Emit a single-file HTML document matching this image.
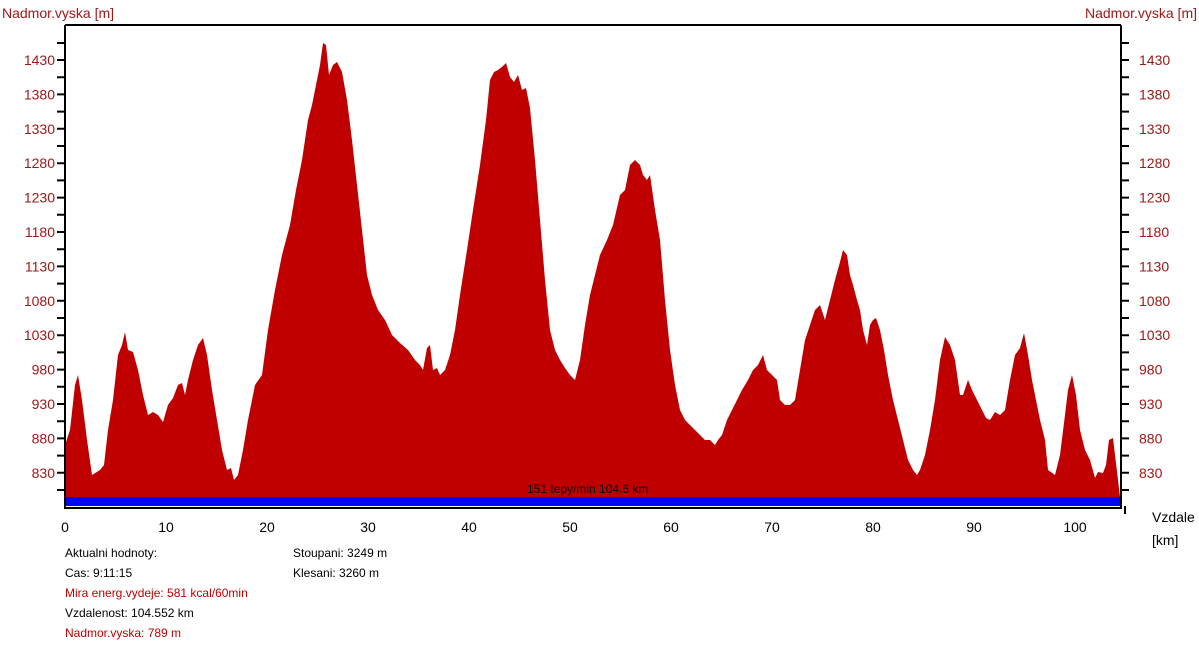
<!DOCTYPE html>
<html><head><meta charset="utf-8"><style>
body{margin:0;background:#fff;width:1199px;height:643px;overflow:hidden;font-family:"Liberation Sans",sans-serif}
svg text{font-family:"Liberation Sans",sans-serif}
</style></head><body>
<svg width="1199" height="643" xmlns="http://www.w3.org/2000/svg">
<polygon fill="#c00000" points="65,497 65,445 70,430 75,385 78,375 82,400 87,440 92,475 100,470 104,465 108,430 113,400 118,355 122,345 125,332 128,350 133,352 138,370 143,395 148,415 153,412 158,415 163,422 168,405 173,398 178,385 182,383 185,395 188,380 193,360 198,345 203,338 207,355 212,390 217,420 222,450 227,470 231,468 234,480 238,475 243,450 248,420 255,385 262,375 268,330 275,290 282,255 290,225 296,190 302,160 308,120 312,105 316,85 320,65 323,43 326,45 329,75 333,65 337,62 342,72 347,100 352,140 357,185 362,230 367,275 372,295 378,310 385,320 392,335 400,343 408,350 415,360 420,365 423,370 427,348 430,345 433,370 437,368 440,375 445,370 450,355 455,330 460,295 467,250 473,210 480,165 486,120 490,80 494,72 498,70 503,66 506,63 510,77 514,82 518,75 522,90 526,88 530,108 535,160 540,220 545,280 550,330 555,350 560,360 565,368 570,375 575,380 580,360 585,325 590,295 595,275 600,255 607,240 613,225 620,195 625,190 630,165 635,160 640,165 643,175 647,180 650,175 655,210 660,240 665,300 670,350 675,385 680,410 685,420 690,425 695,430 700,435 705,440 710,440 715,445 718,440 722,435 727,420 732,410 737,400 742,390 748,380 753,370 758,365 763,355 767,370 772,375 777,380 780,400 785,405 790,405 795,400 800,370 805,340 810,325 815,310 820,305 825,320 830,300 835,280 840,262 843,250 847,255 850,275 853,285 857,300 860,310 863,330 867,345 870,325 873,320 876,318 880,330 884,350 888,375 893,400 898,420 903,440 908,460 913,470 917,475 920,470 925,455 930,430 935,400 940,360 945,337 950,345 955,360 960,395 963,395 968,380 972,390 977,400 982,410 986,418 990,420 995,412 1000,415 1005,410 1010,380 1015,355 1020,348 1024,333 1028,355 1032,380 1036,400 1040,420 1045,440 1048,470 1055,475 1060,455 1065,415 1068,390 1072,375 1076,395 1080,430 1085,450 1090,460 1095,478 1098,472 1103,473 1106,465 1109,440 1113,438 1115,455 1118,480 1120,497"/>
<rect x="65" y="497" width="1056" height="9" fill="#0000ff"/>
<text x="527" y="493" font-size="12" fill="#000">151 tepy/min 104.6 km</text>
<g stroke="#000" stroke-width="2" fill="none">
<polyline points="65,25 1121,25"/>
<polyline points="65,25 65,508 1121,508 1121,25"/>
<line x1="1125" y1="506" x2="1125" y2="514"/>
</g>
<g stroke="#000" stroke-width="2">
<path d="M57,43H65M1121,43H1129
M57,60H65M1121,60H1129M57,77.2H65M1121,77.2H1129
M57,94.4H65M1121,94.4H1129M57,111.6H65M1121,111.6H1129
M57,128.8H65M1121,128.8H1129M57,146H65M1121,146H1129
M57,163.2H65M1121,163.2H1129M57,180.4H65M1121,180.4H1129
M57,197.6H65M1121,197.6H1129M57,214.8H65M1121,214.8H1129
M57,232H65M1121,232H1129M57,249.2H65M1121,249.2H1129
M57,266.4H65M1121,266.4H1129M57,283.6H65M1121,283.6H1129
M57,300.8H65M1121,300.8H1129M57,318H65M1121,318H1129
M57,335.2H65M1121,335.2H1129M57,352.4H65M1121,352.4H1129
M57,369.6H65M1121,369.6H1129M57,386.8H65M1121,386.8H1129
M57,404H65M1121,404H1129M57,421.2H65M1121,421.2H1129
M57,438.4H65M1121,438.4H1129M57,455.6H65M1121,455.6H1129
M57,472.8H65M1121,472.8H1129M57,490H65M1121,490H1129"/>
</g>
<g font-size="14" fill="#a01818" text-anchor="end">
<text x="55" y="65">1430</text><text x="55" y="99.4">1380</text><text x="55" y="133.8">1330</text><text x="55" y="168.2">1280</text><text x="55" y="202.6">1230</text><text x="55" y="237">1180</text><text x="55" y="271.4">1130</text><text x="55" y="305.8">1080</text><text x="55" y="340.2">1030</text><text x="55" y="374.6">980</text><text x="55" y="409">930</text><text x="55" y="443.4">880</text><text x="55" y="477.8">830</text>
</g>
<g font-size="14" fill="#a01818">
<text x="1139" y="65">1430</text><text x="1139" y="99.4">1380</text><text x="1139" y="133.8">1330</text><text x="1139" y="168.2">1280</text><text x="1139" y="202.6">1230</text><text x="1139" y="237">1180</text><text x="1139" y="271.4">1130</text><text x="1139" y="305.8">1080</text><text x="1139" y="340.2">1030</text><text x="1139" y="374.6">980</text><text x="1139" y="409">930</text><text x="1139" y="443.4">880</text><text x="1139" y="477.8">830</text>
</g>
<g font-size="14" text-anchor="middle">
<text x="65" y="532">0</text><text x="166" y="532">10</text><text x="267" y="532">20</text><text x="368" y="532">30</text><text x="469" y="532">40</text><text x="570" y="532">50</text><text x="671" y="532">60</text><text x="772" y="532">70</text><text x="873" y="532">80</text><text x="974" y="532">90</text><text x="1075" y="532">100</text>
</g>
<text x="2" y="18" font-size="14" fill="#a01818">Nadmor.vyska [m]</text>
<text x="1197" y="18" font-size="14" fill="#a01818" text-anchor="end">Nadmor.vyska [m]</text>
<text x="1152" y="522" font-size="14">Vzdale</text>
<text x="1152" y="545" font-size="14">[km]</text>
<g font-size="12">
<text x="65" y="557">Aktualni hodnoty:</text>
<text x="65" y="577">Cas: 9:11:15</text>
<text x="65" y="597" fill="#c00000">Mira energ.vydeje: 581 kcal/60min</text>
<text x="65" y="617">Vzdalenost: 104.552 km</text>
<text x="65" y="637" fill="#c00000">Nadmor.vyska: 789 m</text>
<text x="293" y="557">Stoupani: 3249 m</text>
<text x="293" y="577">Klesani: 3260 m</text>
</g>
</svg>
</body></html>
